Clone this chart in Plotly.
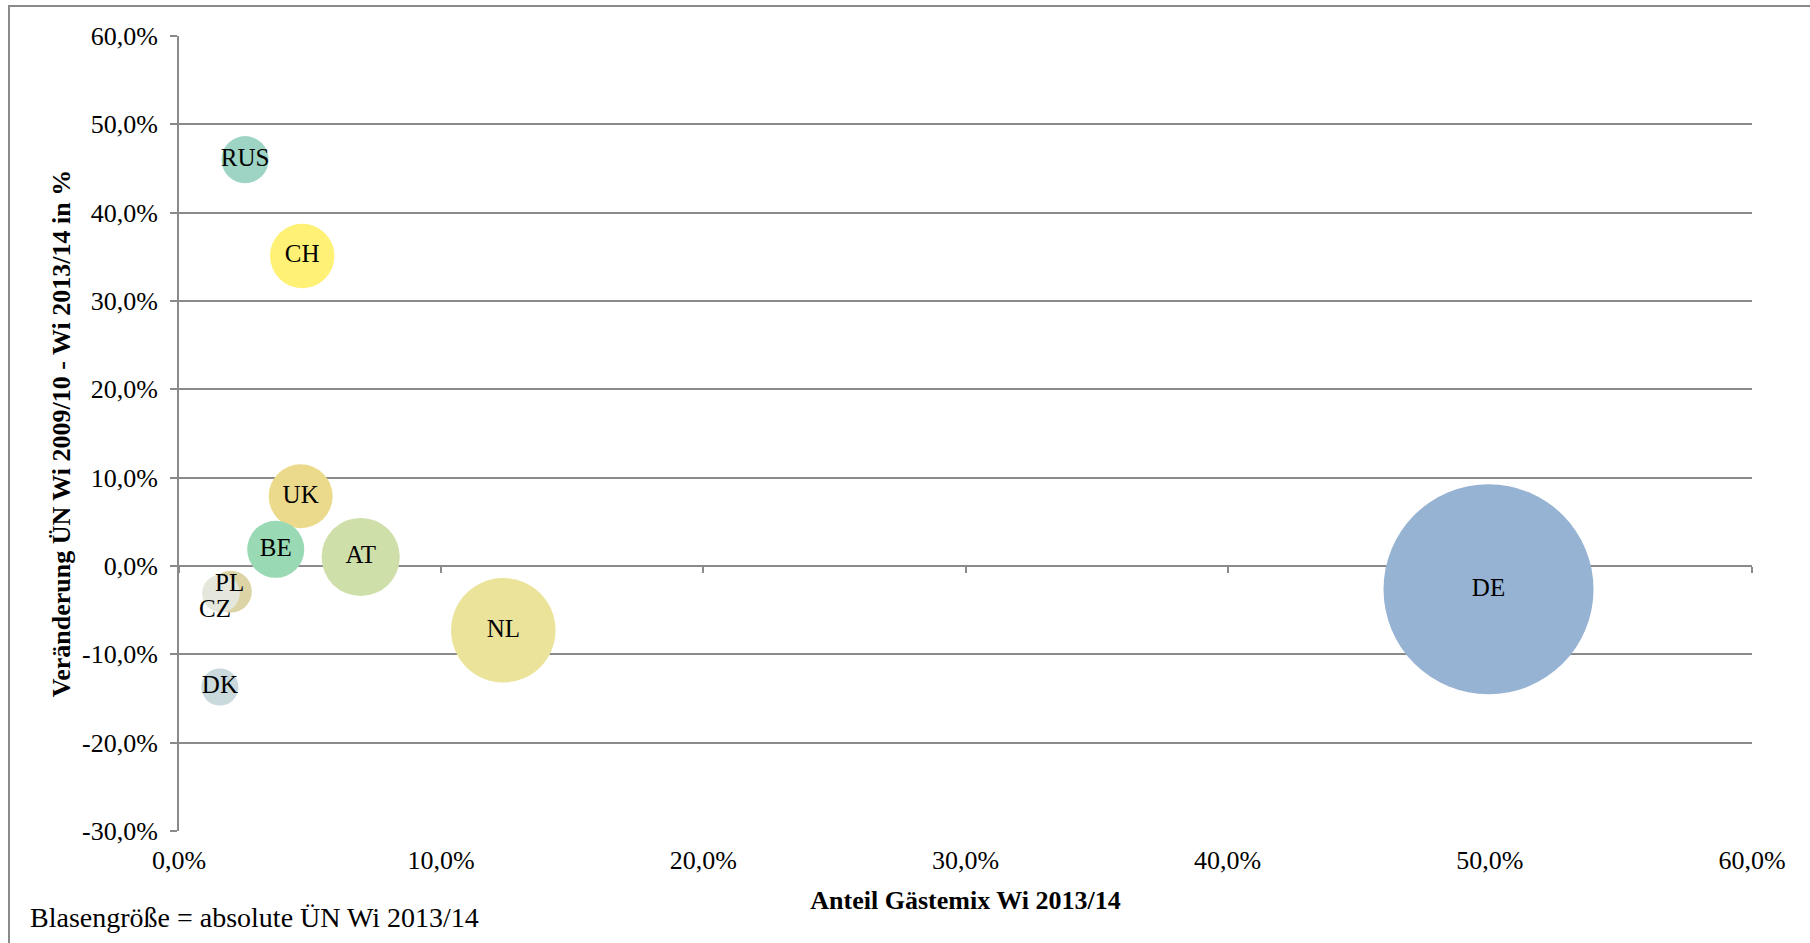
import plotly.graph_objects as go

# ---- data ----
countries = ["DE", "NL", "AT", "UK", "CH", "BE", "RUS", "DK", "PL", "CZ"]
anteil_gaestemix = [49.95, 12.37, 6.93, 4.64, 4.70, 3.69, 2.52, 1.56, 1.98, 1.60]      # x, %
veraenderung_uen = [-2.64, -7.28, 1.02, 7.89, 35.1, 1.89, 46.0, -13.7, -2.9, -3.1]      # y, %
bubble_size = [49.95, 12.37, 6.93, 4.64, 4.70, 3.69, 2.52, 1.56, 1.98, 1.60]          # relative absolute ÜN
colors = ["#97b3d3", "#ebe39a", "#cfdfa9", "#ecda8c", "#fff176", "#99d9b4",
          "#9dd4c4", "#c9d9dc", "#ddd4a6", "#e5e7dd"]

x_ticks = [0, 10, 20, 30, 40, 50, 60]
x_ticktext = ["0,0%", "10,0%", "20,0%", "30,0%", "40,0%", "50,0%", "60,0%"]
y_ticks = [-30, -20, -10, 0, 10, 20, 30, 40, 50, 60]
y_ticktext = ["-30,0%", "-20,0%", "-10,0%", "0,0%", "10,0%", "20,0%", "30,0%",
              "40,0%", "50,0%", "60,0%"]

# labels moved off-centre in the reference (overlapping bubbles)
shifted_labels = {"PL": (-1, 9), "CZ": (-6, -15)}

FONT = "Liberation Serif, Times New Roman, DejaVu Serif, serif"
GRID = "#8a8a8a"
MAX_DIAM = 210

fig = go.Figure()

# helper trace so the zero-crossing axis (with tick marks) is rendered
fig.add_trace(go.Scatter(x=[None], y=[None], xaxis="x2", yaxis="y",
                         showlegend=False, hoverinfo="skip"))

fig.add_trace(go.Scatter(
    x=anteil_gaestemix, y=veraenderung_uen,
    mode="markers+text",
    text=["" if c in shifted_labels else c for c in countries],
    textposition="middle center",
    textfont=dict(family=FONT, size=25, color="black"),
    marker=dict(size=bubble_size, sizemode="area",
                sizeref=2 * max(bubble_size) / (MAX_DIAM ** 2),
                color=colors, opacity=1, line=dict(width=0)),
    showlegend=False, hoverinfo="text",
    hovertext=countries,
))

for c, xv, yv in zip(countries, anteil_gaestemix, veraenderung_uen):
    if c in shifted_labels:
        dx, dy = shifted_labels[c]
        fig.add_annotation(x=xv, y=yv, xref="x", yref="y", text=c, showarrow=False,
                           xshift=dx, yshift=dy,
                           font=dict(family=FONT, size=25, color="black"))

fig.add_annotation(text="Blasengröße = absolute ÜN Wi 2013/14",
                   xref="paper", yref="paper", x=(28 - 179) / 1573, y=(831 - 917) / 795,
                   xanchor="left", yanchor="middle", showarrow=False,
                   font=dict(family=FONT, size=28, color="black"))

# outer chart-area frame (clipped at right/bottom in the reference)
fig.add_shape(type="rect", xref="paper", yref="paper",
              x0=(9 - 179) / 1573, x1=1.3, y0=-0.4, y1=(831 - 6) / 795,
              line=dict(color=GRID, width=2), fillcolor="rgba(0,0,0,0)", layer="below")

fig.update_layout(
    width=1810, height=943,
    margin=dict(l=179, r=58, t=36, b=112, pad=0),
    paper_bgcolor="white", plot_bgcolor="white",
    font=dict(family=FONT, size=26, color="black"),
    xaxis=dict(range=[0, 60], tickvals=x_ticks, ticktext=x_ticktext,
               showgrid=False, zeroline=False, showline=False, ticks="",
               ticklabelstandoff=11,
               tickfont=dict(family=FONT, size=26, color="black"),
               title=dict(text="Anteil Gästemix Wi 2013/14", standoff=16,
                          font=dict(family=FONT, size=26, color="black", weight="bold")),
               automargin=False),
    xaxis2=dict(range=[0, 60], tickvals=x_ticks, overlaying="x", anchor="free",
                position=1 / 3, side="bottom", showgrid=False, zeroline=False,
                showline=True, linecolor=GRID, linewidth=2,
                ticks="outside", ticklen=6, tickwidth=2, tickcolor=GRID,
                showticklabels=False, layer="below traces"),
    yaxis=dict(range=[-30, 60], tickvals=y_ticks, ticktext=y_ticktext,
               showgrid=True, gridcolor=GRID, gridwidth=2, zeroline=False,
               showline=True, linecolor=GRID, linewidth=2,
               ticks="outside", ticklen=7, tickwidth=2, tickcolor=GRID,
               ticklabelstandoff=7,
               tickfont=dict(family=FONT, size=26, color="black"),
               title=dict(text="Veränderung ÜN Wi 2009/10 - Wi 2013/14 in %", standoff=4,
                          font=dict(family=FONT, size=26, color="black", weight="bold")),
               automargin=False),
)

fig.write_html("out.html")
